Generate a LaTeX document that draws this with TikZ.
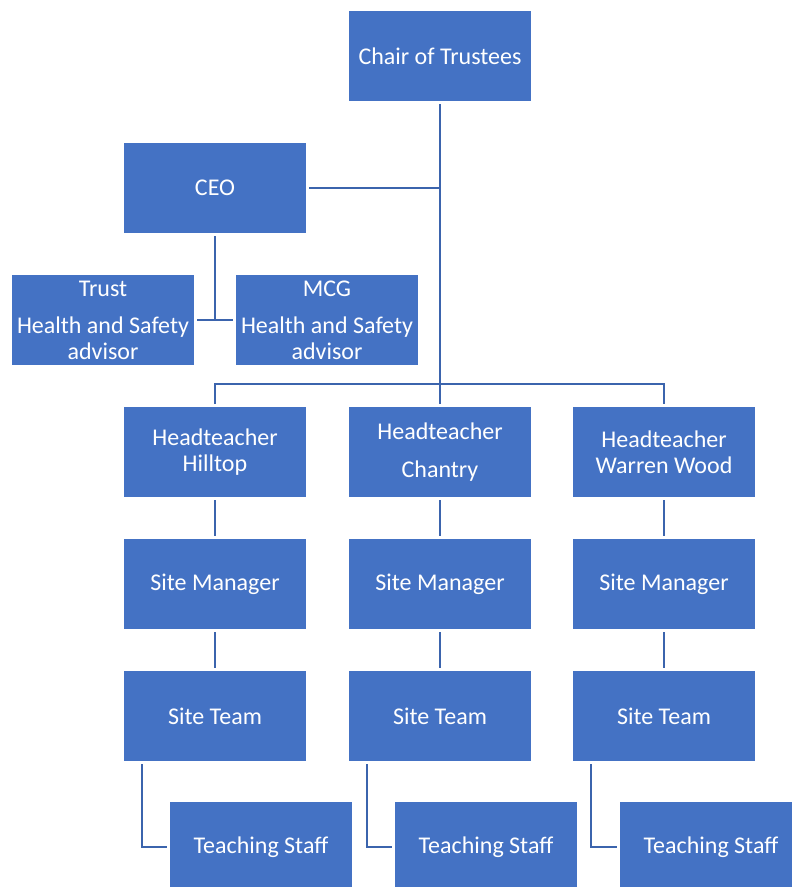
\documentclass[tikz,border=0pt]{standalone}
\usepackage{fontspec}
\setmainfont{Carlito}
\usetikzlibrary{calc}
\definecolor{boxblue}{HTML}{4472C4}
\definecolor{lineblue}{HTML}{3B64AD}

\begin{document}
\begin{tikzpicture}[x=1pt,y=-1pt,
    post/.style={fill=boxblue,text=white,minimum width=182pt,minimum height=90pt,
      inner sep=0pt,outer sep=3pt,align=center,font=\fontsize{24}{26}\selectfont},
    link/.style={draw=lineblue,line width=2.8pt}]
    \clip (0,0) rectangle (792,887);
    \useasboundingbox (0,0) rectangle (792,887);
    % top
    \node[post] (chair) at (440, 56) {Chair of Trustees};
    \node[post] (ceo)   at (215,188) {CEO};
    \node[post] (trust) at (103,320) {Trust\\[11pt]Health and Safety\\advisor};
    \node[post] (mcg)   at (327,320) {MCG\\[11pt]Health and Safety\\advisor};
    % schools
    \node[post] (headH) at (215,452) {Headteacher\\Hilltop};
    \node[post] (headC) at (440,452) {Headteacher\\[12pt]Chantry};
    \node[post] (headW) at (664,452) {Headteacher\\Warren Wood};
    \node[post] (siteH) at (215,584) {Site Manager};
    \node[post] (siteC) at (440,584) {Site Manager};
    \node[post] (siteW) at (664,584) {Site Manager};
    \node[post] (teamH) at (215,716) {Site Team};
    \node[post] (teamC) at (440,716) {Site Team};
    \node[post] (teamW) at (664,716) {Site Team};
    \node[post] (staffH) at (261,847) {Teaching Staff};
    \node[post] (staffC) at (486,847) {Teaching Staff};
    \node[post] (staffW) at (711,847) {Teaching Staff};
    \coordinate (bus) at (440,384);
    \coordinate (hs)  at (215,320);
    % connectors
    \draw[link] (chair.south) -- (headC.north);
    \draw[link] (ceo.east) -- (ceo.east -| chair);
    \draw[link] (ceo.south) -- (hs);
    \draw[link] (trust.east) -- (mcg.west);
    \draw[link] (headH.north) |- (bus) -| (headW.north);
    \draw[link] (headH) -- (siteH) -- (teamH);
    \draw[link] (headC) -- (siteC) -- (teamC);
    \draw[link] (headW) -- (siteW) -- (teamW);
    \draw[link] ($(teamH.south west)+(21,0)$) |- (staffH.west);
    \draw[link] ($(teamC.south west)+(21,0)$) |- (staffC.west);
    \draw[link] ($(teamW.south west)+(21,0)$) |- (staffW.west);
\end{tikzpicture}
\end{document}
